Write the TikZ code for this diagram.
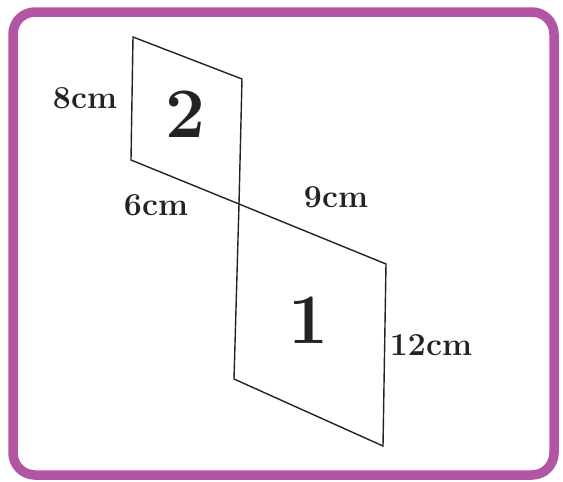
\documentclass[tikz,border=0pt]{standalone}
\definecolor{framepurple}{RGB}{178,86,164}
\definecolor{ink}{RGB}{35,35,35}
\begin{document}
\begin{tikzpicture}[x=1pt,y=-1pt,
  frame/.style={draw=framepurple, line width=9.5pt, rounded corners=22pt},
  edge/.style={draw=ink, line width=1.4pt, line join=miter},
  lab/.style={font=\fontsize{32}{32}\selectfont\bfseries, text=ink, inner sep=0pt},
  big/.style={font=\fontsize{71}{71}\selectfont\bfseries, text=ink, inner sep=0pt}]
\useasboundingbox (0,0) rectangle (563,482);
\draw[frame] (13,12) rectangle (554,475);
% vertices
\coordinate (a) at (133,37);
\coordinate (b) at (242,79);
\coordinate (c) at (131,160);
\coordinate (m) at (239,204);
\coordinate (d) at (386,264);
\coordinate (e) at (234,379);
\coordinate (f) at (383,446);
% parallelogram 2
\draw[edge] (m) -- (c) -- (a) -- (b) -- (m);
% parallelogram 1
\draw[edge] (m) -- (d) -- (f) -- (e) -- (m);
% labels
\node[lab] (l8) at (85,98) {8cm};
\node[lab] (l6) at (156,205) {6cm};
\node[lab] (l9) at (336,197) {9cm};
\node[lab] (l12) at (431,345) {12cm};
\node[big] (n2) at (185,114) {2};
\node[big] (n1) at (308,320) {1};
\end{tikzpicture}
\end{document}
